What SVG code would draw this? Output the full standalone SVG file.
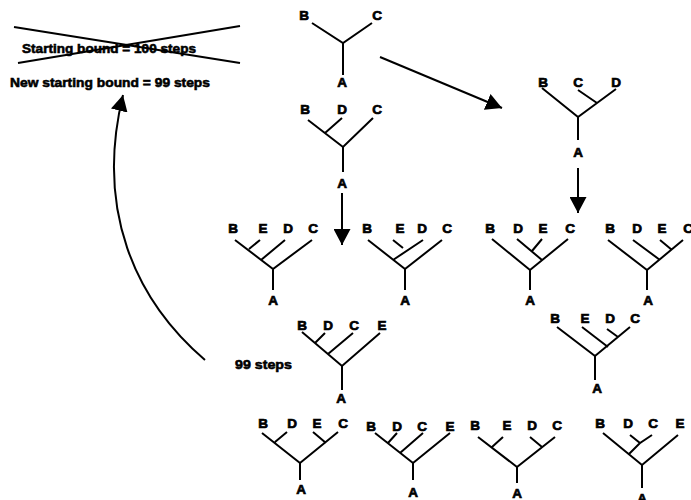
<svg xmlns="http://www.w3.org/2000/svg" width="691" height="500" viewBox="0 0 691 500">
<defs>
<marker id="ah" markerUnits="userSpaceOnUse" markerWidth="16" markerHeight="17" refX="16" refY="8.5" orient="auto">
<path d="M0,0 L16,8.5 L0,17 z" fill="#000"/>
</marker>
<style>
.br{fill:none;stroke:#000;stroke-width:2;stroke-linecap:butt}
.lb{font-family:"Liberation Sans",Arial,sans-serif;font-weight:bold;font-size:13.5px;text-anchor:middle;fill:#000;stroke:#000;stroke-width:0.7px}
.tx{font-family:"Liberation Sans",Arial,sans-serif;font-weight:bold;font-size:13.5px;fill:#000;stroke:#000;stroke-width:0.6px}
.cn{fill:none;stroke:#000;stroke-width:2}
</style>
</defs>
<rect width="691" height="500" fill="#fff"/>

<g id="old-bound">
<text class="tx" x="22" y="53" textLength="174" lengthAdjust="spacingAndGlyphs">Starting bound = 100 steps</text>
<path d="M14,27 L240,63 M18,63 L240,26" class="br" stroke-width="1.8"/>
</g>
<g id="new-bound">
<text class="tx" x="10" y="87" textLength="200" lengthAdjust="spacingAndGlyphs">New starting bound = 99 steps</text>
</g>
<g id="steps99">
<text class="tx" x="235" y="369" textLength="57" lengthAdjust="spacingAndGlyphs">99 steps</text>
</g>

<g id="connectors">
<path class="cn" d="M342,193 V245" marker-end="url(#ah)"/>
<path class="cn" d="M578,168 V213" marker-end="url(#ah)"/>
<path class="cn" d="M380,57 L502,108" marker-end="url(#ah)"/>
<path class="cn" d="M205,360 C135,300 95,210 123,95" marker-end="url(#ah)"/>
</g>

<g id="t1">
<path class="br" d="M312,23 L343,43 L372,23 M343,43 V75"/>
<text class="lb" x="304" y="20">B</text><text class="lb" x="377" y="20">C</text>
<text class="lb" x="342" y="87">A</text>
</g>
<g id="t2">
<path class="br" d="M308,120 L343,147 L373,118 M342,118 L325,133 M343,147 V172"/>
<text class="lb" x="305" y="114">B</text><text class="lb" x="342" y="114">D</text><text class="lb" x="377" y="114">C</text>
<text class="lb" x="342" y="188">A</text>
</g>
<g id="t3">
<path class="br" d="M542,88 L578,117 L616,89 M578,90 L597,103 M578,117 V140"/>
<text class="lb" x="543" y="87">B</text><text class="lb" x="578" y="87">C</text><text class="lb" x="616" y="87">D</text>
<text class="lb" x="578" y="157">A</text>
</g>
<g id="t4">
<path class="br" d="M235,240 L273,269 L312,240 M260,240 L249,249 M285,240 L261,260 M273,269 V290"/>
<text class="lb" x="233" y="233">B</text><text class="lb" x="263" y="233">E</text><text class="lb" x="288" y="233">D</text><text class="lb" x="313" y="233">C</text>
<text class="lb" x="273" y="305">A</text>
</g>
<g id="t5">
<path class="br" d="M368,240 L405,269 L442,240 M423,240 L393,260 M393,240 L403,248 M405,269 V290"/>
<text class="lb" x="367" y="233">B</text><text class="lb" x="400" y="233">E</text><text class="lb" x="422" y="233">D</text><text class="lb" x="447" y="233">C</text>
<text class="lb" x="405" y="305">A</text>
</g>
<g id="t6">
<path class="br" d="M492,239 L530,270 L568,239 M517,239 L542,260 M542,239 L532,251 M530,270 V290"/>
<text class="lb" x="490" y="233">B</text><text class="lb" x="518" y="233">D</text><text class="lb" x="543" y="233">E</text><text class="lb" x="570" y="233">C</text>
<text class="lb" x="530" y="305">A</text>
</g>
<g id="t7">
<path class="br" d="M608,240 L647,270 L683,240 M633,240 L660,260 M660,240 L672,250 M647,270 V290"/>
<text class="lb" x="610" y="233">B</text><text class="lb" x="637" y="233">D</text><text class="lb" x="662" y="233">E</text><text class="lb" x="688" y="233">C</text>
<text class="lb" x="648" y="305">A</text>
</g>
<g id="t8">
<path class="br" d="M302,332 L342,366 L380,333 M325,333 L315,343 M353,333 L328,354 M342,366 V390"/>
<text class="lb" x="302" y="330">B</text><text class="lb" x="328" y="330">D</text><text class="lb" x="354" y="330">C</text><text class="lb" x="382" y="330">E</text>
<text class="lb" x="341" y="403">A</text>
</g>
<g id="t9">
<path class="br" d="M557,327 L595,356 L630,327 M582,327 L608,347 M607,329 L618,337 M595,356 V380"/>
<text class="lb" x="555" y="323">B</text><text class="lb" x="585" y="323">E</text><text class="lb" x="610" y="323">D</text><text class="lb" x="635" y="323">C</text>
<text class="lb" x="597" y="393">A</text>
</g>
<g id="t10">
<path class="br" d="M262,433 L300,463 L338,432 M287,432 L275,442 M313,432 L326,443 M300,463 V480"/>
<text class="lb" x="263" y="428">B</text><text class="lb" x="292" y="428">D</text><text class="lb" x="317" y="428">E</text><text class="lb" x="343" y="428">C</text>
<text class="lb" x="301" y="494">A</text>
</g>
<g id="t11">
<path class="br" d="M375,433 L413,463 L450,433 M397,433 L388,443 M423,433 L400,453 M413,463 V480"/>
<text class="lb" x="371" y="431">B</text><text class="lb" x="397" y="431">D</text><text class="lb" x="422" y="431">C</text><text class="lb" x="450" y="431">E</text>
<text class="lb" x="413" y="497">A</text>
</g>
<g id="t12">
<path class="br" d="M478,437 L517,467 L555,437 M503,437 L492,447 M530,437 L542,447 M517,467 V483"/>
<text class="lb" x="475" y="430">B</text><text class="lb" x="507" y="430">E</text><text class="lb" x="532" y="430">D</text><text class="lb" x="557" y="430">C</text>
<text class="lb" x="517" y="498">A</text>
</g>
<g id="t13">
<path class="br" d="M603,433 L642,465 L678,435 M630,435 L640,443 L652,435 M640,443 L629,454 M642,465 V488"/>
<text class="lb" x="600" y="428">B</text><text class="lb" x="628" y="428">D</text><text class="lb" x="653" y="428">C</text><text class="lb" x="680" y="428">E</text>
<text class="lb" x="642" y="503">A</text>
</g>
</svg>
